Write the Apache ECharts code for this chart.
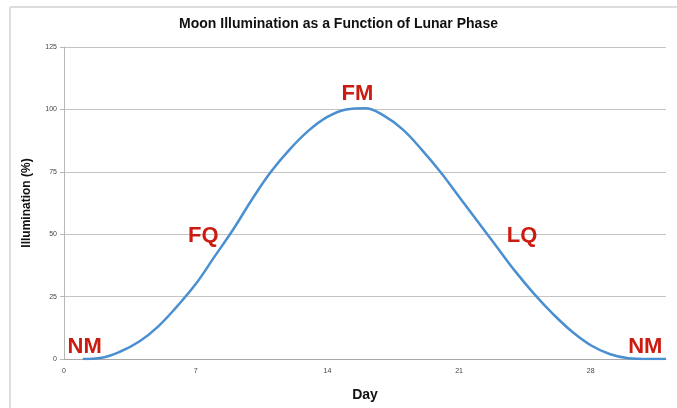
<!DOCTYPE html>
<html>
<head>
<meta charset="utf-8">
<script src="https://cdn.jsdelivr.net/npm/echarts@6/dist/echarts.min.js"></script>
<style>
  html, body { margin: 0; padding: 0; background: #fff; }
  #chart { width: 677px; height: 408px; }
</style>
</head>
<body>
<div id="chart"></div>
<script>
// 日期与照明百分比
const days = [1, 2, 3, 4, 5, 6, 7, 8, 9, 10, 11, 12, 13, 14, 15, 16,
  17, 18, 19, 20, 21, 22, 23, 24, 25, 26, 27, 28, 29, 30, 31, 32]
const illumination = [0, 0.5, 3, 7, 13, 21, 30, 41, 52, 64, 75, 84, 91.5, 97, 100, 100.5,
  97.5, 92, 84, 75, 65, 55, 45, 35, 26, 18, 11, 5.5, 2, 0.3, 0, 0]

// 月相标注
const phaseNames = ['NM', 'FQ', 'FM', 'LQ', 'NM']
const phaseDays = [1.1, 7.4, 15.6, 24.35, 30.9]
const phaseValues = [4.8, 49.3, 106, 49.3, 4.8]

const chart = echarts.init(document.getElementById('chart'))

const option = {
  animation: false,
  title: {
    text: 'Moon Illumination as a Function of Lunar Phase',
    left: 'center',
    top: 12,
    textStyle: { fontFamily: 'Liberation Sans', fontSize: 14, fontWeight: 'bold', color: '#111' }
  },
  graphic: [
    { type: 'line', shape: { x1: 10, y1: 7, x2: 677, y2: 7 }, style: { stroke: '#dcdcdc', lineWidth: 2 } },
    { type: 'line', shape: { x1: 10, y1: 7, x2: 10, y2: 408 }, style: { stroke: '#dcdcdc', lineWidth: 2 } }
  ],
  grid: { left: 64, right: 11, top: 47, bottom: 49 },
  xAxis: {
    type: 'value',
    min: 0,
    max: 32,
    interval: 7,
    name: 'Day',
    nameLocation: 'middle',
    nameGap: 29,
    nameTextStyle: { fontFamily: 'Liberation Sans', fontSize: 14, fontWeight: 'bold', color: '#111' },
    axisLine: { lineStyle: { color: '#a8a8a8', width: 1 } },
    axisTick: { show: false },
    splitLine: { show: false },
    axisLabel: {
      showMaxLabel: false,
      fontSize: 7,
      color: '#444',
      margin: 9,
      formatter: v => (v % 7 === 0 ? String(v) : '')
    }
  },
  yAxis: {
    type: 'value',
    min: 0,
    max: 125,
    interval: 25,
    name: 'Illumination (%)',
    nameLocation: 'middle',
    nameGap: 31,
    nameTextStyle: { fontFamily: 'Liberation Sans', fontSize: 12, fontWeight: 'bold', color: '#111' },
    axisLine: { show: true, lineStyle: { color: '#b8b8b8' } },
    axisTick: { show: true, length: 4, lineStyle: { color: '#b8b8b8' } },
    splitLine: { lineStyle: { color: '#c4c4c4', width: 1 } },
    axisLabel: { fontSize: 7, color: '#444', margin: 7 }
  },
  series: [
    {
      type: 'line',
      data: days.map((d, i) => [d, illumination[i]]),
      smooth: 0.4,
      showSymbol: false,
      lineStyle: { color: '#4a8fd0', width: 2.5 },
      z: 3
    },
    {
      type: 'scatter',
      data: phaseDays.map((d, i) => [d, phaseValues[i], phaseNames[i]]),
      symbolSize: 0,
      z: 4,
      itemStyle: { opacity: 1 },
      label: {
        show: true,
        position: 'inside',
        formatter: p => p.value[2],
        fontFamily: 'Liberation Sans',
        fontSize: 22,
        fontWeight: 'bold',
        color: '#cc1b10',
        opacity: 1,
        textBorderWidth: 0,
        textBorderColor: 'transparent'
      }
    }
  ]
}

chart.setOption(option)
</script>
</body>
</html>
